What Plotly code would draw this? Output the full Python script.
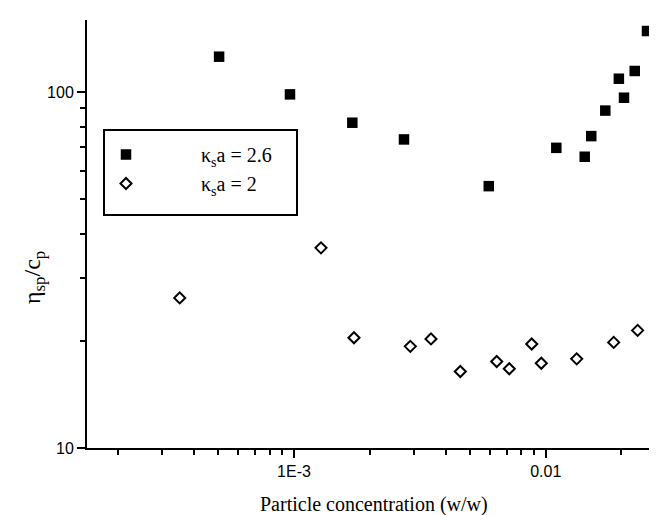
import plotly.graph_objects as go

# Data
conc_26 = [5.04e-4, 9.64e-4, 1.705e-3, 2.735e-3, 5.94e-3, 0.01102, 0.01429,
           0.01517, 0.01725, 0.01953, 0.02047, 0.02258, 0.02526]
eta_26 = [125.7, 98.5, 82.0, 73.6, 54.4, 69.7, 65.8, 75.2, 88.7, 109.0, 96.4,
          114.6, 148.4]

conc_2 = [3.515e-4, 1.280e-3, 1.731e-3, 2.898e-3, 3.501e-3, 4.579e-3, 6.388e-3,
          7.166e-3, 8.799e-3, 9.605e-3, 0.01328, 0.01863, 0.02319]
eta_2 = [26.4, 36.5, 20.4, 19.3, 20.25, 16.4, 17.5, 16.7, 19.6, 17.3, 17.8,
         19.8, 21.4]

x_tickvals = [1e-3, 1e-2]
x_ticktext = ["1E-3", "0.01"]
x_minor = [2e-4, 3e-4, 4e-4, 5e-4, 6e-4, 7e-4, 8e-4, 9e-4,
           2e-3, 3e-3, 4e-3, 5e-3, 6e-3, 7e-3, 8e-3, 9e-3, 2e-2, 3e-2]
y_tickvals = [10, 100]
y_ticktext = ["10", "100"]
y_minor = [20, 30, 40, 50, 60, 70, 80, 90]

W, H = 657, 515
L, R, T, B = 79, 0, 12, 75
pw, ph = W - L - R, H - T - B

def px(xp):
    return (xp - L) / pw

def py(yp):
    return (H - B - yp) / ph

serif = "Liberation Serif, Times New Roman, serif"
sans = "Liberation Sans, Arial, sans-serif"

pad = "\u00a0" * 11

fig = go.Figure()
fig.add_trace(go.Scatter(
    x=conc_26, y=eta_26, mode="markers",
    name=pad + "\u03ba<sub>s</sub>a = 2.6",
    marker=dict(symbol="square", size=10.5, color="black", line=dict(width=0)),
))
fig.add_trace(go.Scatter(
    x=conc_2, y=eta_2, mode="markers",
    name=pad + "\u03ba<sub>s</sub>a = 2",
    marker=dict(symbol="diamond-open", size=8.5, color="black",
                line=dict(width=2, color="black")),
))

axis_common = dict(
    type="log", showgrid=False, zeroline=False, showline=True,
    linecolor="black", linewidth=2, ticks="outside", ticklen=8,
    tickwidth=2, tickcolor="black",
    tickfont=dict(family=sans, size=16, color="black"),
)

fig.update_xaxes(
    **axis_common,
    range=[-3.8224, -1.526],
    tickvals=x_tickvals, ticktext=x_ticktext,
    minor=dict(tickvals=x_minor, ticks="outside", ticklen=5, tickwidth=2,
               tickcolor="black"),
)
fig.update_yaxes(
    **axis_common,
    range=[1.0, 2.2024],
    tickvals=y_tickvals, ticktext=y_ticktext,
    minor=dict(tickvals=y_minor, ticks="outside", ticklen=5, tickwidth=2,
               tickcolor="black"),
)

fig.update_layout(
    width=W, height=H,
    margin=dict(l=L, r=R, t=T, b=B, pad=0),
    plot_bgcolor="white", paper_bgcolor="white",
    showlegend=True,
    legend=dict(
        x=px(98), y=py(127), xanchor="left", yanchor="top",
        bgcolor="rgba(0,0,0,0)", borderwidth=0,
        font=dict(family=serif, size=20, color="black"),
        tracegroupgap=0,
    ),
    shapes=[dict(
        type="rect", xref="paper", yref="paper",
        x0=px(96), x1=px(289), y0=py(207), y1=py(122),
        line=dict(color="black", width=2), fillcolor="rgba(0,0,0,0)",
    )],
    annotations=[
        dict(text="Particle concentration (w/w)", xref="paper", yref="paper",
             x=px(366), y=py(497), xanchor="center", yanchor="middle",
             showarrow=False, font=dict(family=serif, size=20, color="black")),
        dict(text="\u03b7<sub>sp</sub>/c<sub>p</sub>", xref="paper", yref="paper",
             x=px(26), y=py(270), xanchor="center", yanchor="middle",
             textangle=-90, showarrow=False,
             font=dict(family=serif, size=24, color="black")),
    ],
)

fig.write_html("out.html")
